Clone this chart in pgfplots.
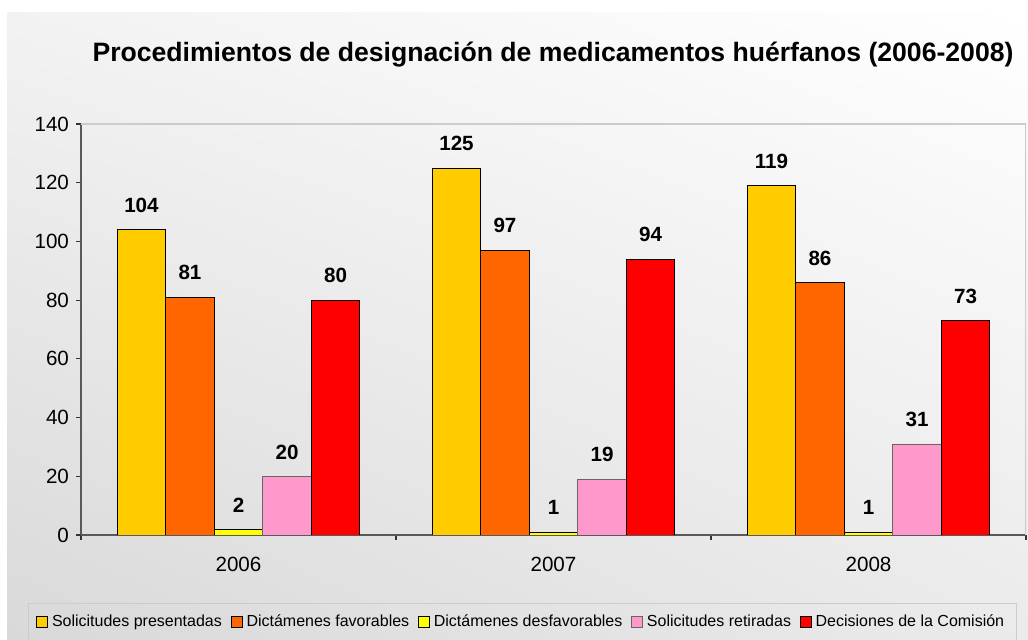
\documentclass[border=0pt]{standalone}
\usepackage{pgfplots}
\pgfplotsset{compat=1.18}
\usetikzlibrary{shadings}
\usepackage{fontspec}
\setmainfont{Liberation Sans}

\definecolor{cpres}{HTML}{FFCC00}
\definecolor{cfav}{HTML}{FF6600}
\definecolor{cdesf}{HTML}{FFFF00}
\definecolor{cret}{HTML}{FF99CC}
\definecolor{cdec}{HTML}{FF0000}

\begin{document}
\begin{tikzpicture}
% 1 px of the reference = 0.5pt
\useasboundingbox (0pt,0pt) rectangle (514pt,320pt);
% chart area background
\shade[upper left=black!5, upper right=white, lower left=black!15, lower right=black!8] (3.5pt,0pt) rectangle (514pt,313.5pt);
\node[font=\bfseries\fontsize{13.3}{16}\selectfont] at (276.5pt,292.5pt)
  {Procedimientos de designación de medicamentos huérfanos (2006-2008)};

\begin{axis}[
    at={(40.5pt,52.5pt)}, anchor=south west,
    scale only axis,
    width=472.5pt, height=205.5pt,
    ybar=0pt,
    bar width=0.154,
    xmin=-0.5, xmax=2.5,
    ymin=0, ymax=140,
    xtick={0,1,2},
    xticklabels={2006,2007,2008},
    minor xtick={-0.5,0.5,1.5,2.5},
    major x tick style={draw=none},
    ytick={0,20,...,140},
    axis x line*=bottom,
    axis y line*=left,
    tick align=outside,
    axis line style={black!65, line width=0.9pt},
    tick style={black!80, line width=0.6pt},
    major tick length=2.5pt,
    minor tick length=2.5pt,
    tick label style={font=\fontsize{10.3}{12}\selectfont},
    xticklabel style={yshift=-5pt},
    /pgf/number format/assume math mode=true,
    nodes near coords,
    every node near coord/.append style={font=\bfseries\fontsize{10.3}{12}\selectfont, black, yshift=5pt},
    legend columns=5,
    legend style={at={(0.467,-0.212)}, anchor=center, draw=black!20, fill=none,
        font=\fontsize{8}{9.6}\selectfont, inner xsep=4pt, inner ysep=3.5pt,
        /tikz/every even column/.append style={column sep=2.5pt}},
    legend image code/.code={\draw[#1] (0pt,-2.7pt) rectangle (5.4pt,2.7pt);},
]
\draw[black!20, line width=0.8pt] (rel axis cs:0,1) -- (rel axis cs:1,1) -- (rel axis cs:1,0);
\addplot[fill=cpres, draw=black] coordinates {(0,104) (1,125) (2,119)};
\addplot[fill=cfav, draw=black] coordinates {(0,81) (1,97) (2,86)};
\addplot[fill=cdesf, draw=black] coordinates {(0,2) (1,1) (2,1)};
\addplot[fill=cret, draw=black!60] coordinates {(0,20) (1,19) (2,31)};
\addplot[fill=cdec, draw=black] coordinates {(0,80) (1,94) (2,73)};
\legend{Solicitudes presentadas, Dictámenes favorables, Dictámenes desfavorables, Solicitudes retiradas, Decisiones de la Comisión}
\end{axis}
\end{tikzpicture}
\end{document}
